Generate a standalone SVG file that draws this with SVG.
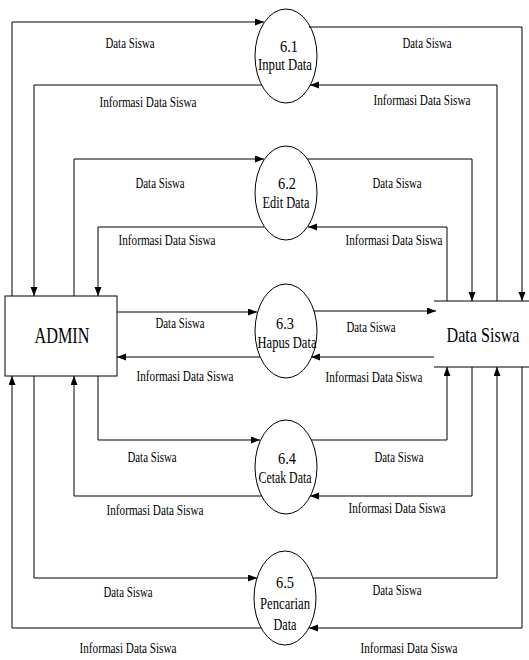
<svg xmlns="http://www.w3.org/2000/svg" width="529" height="660" viewBox="0 0 529 660">
  <style>
    .flow { fill: none; stroke: #000; stroke-width: 1; marker-end: url(#arrow); }
    .line { fill: none; stroke: #000; stroke-width: 1; }
    .proc { fill: #fff; stroke: #000; stroke-width: 1; }
    text { font-family: "Liberation Serif", "Times New Roman", serif; fill: #000; text-anchor: middle; }
    .lbl { font-size: 15px; }
    .pt { font-size: 17px; }
  </style>
  <defs>
    <marker id="arrow" markerUnits="userSpaceOnUse" markerWidth="10" markerHeight="8" refX="9" refY="3.5" orient="auto">
      <path d="M0,0 L9,3.5 L0,7 Z" fill="#000"/>
    </marker>
  </defs>

  <!-- external entity -->
  <g id="admin">
    <rect x="5" y="296" width="112" height="80" fill="#fff" stroke="#000" stroke-width="1"/>
    <text x="62" y="343" style="font-size:24px" textLength="55" lengthAdjust="spacingAndGlyphs">ADMIN</text>
  </g>

  <!-- data store -->
  <g id="store-data-siswa">
    <line class="line" x1="434" y1="301" x2="529" y2="301"/>
    <line class="line" x1="434" y1="367" x2="529" y2="367"/>
    <text x="483" y="342" style="font-size:21px" textLength="73" lengthAdjust="spacingAndGlyphs">Data Siswa</text>
  </g>

  <!-- processes -->
  <g id="p6-1">
    <ellipse class="proc" cx="286" cy="56" rx="31" ry="47"/>
    <text class="pt" x="289" y="52" textLength="18" lengthAdjust="spacingAndGlyphs">6.1</text>
    <text class="pt" x="285" y="70" textLength="54" lengthAdjust="spacingAndGlyphs">Input Data</text>
  </g>
  <g id="p6-2">
    <ellipse class="proc" cx="286" cy="193" rx="31" ry="47"/>
    <text class="pt" x="287" y="189" textLength="18" lengthAdjust="spacingAndGlyphs">6.2</text>
    <text class="pt" x="286" y="208" textLength="47" lengthAdjust="spacingAndGlyphs">Edit Data</text>
  </g>
  <g id="p6-3">
    <ellipse class="proc" cx="286" cy="331" rx="31" ry="47"/>
    <text class="pt" x="285" y="329" textLength="18" lengthAdjust="spacingAndGlyphs">6.3</text>
    <text class="pt" x="287" y="348" textLength="59" lengthAdjust="spacingAndGlyphs">Hapus Data</text>
  </g>
  <g id="p6-4">
    <ellipse class="proc" cx="286" cy="467" rx="31" ry="47"/>
    <text class="pt" x="287" y="464" textLength="18" lengthAdjust="spacingAndGlyphs">6.4</text>
    <text class="pt" x="285" y="483" textLength="53" lengthAdjust="spacingAndGlyphs">Cetak Data</text>
  </g>
  <g id="p6-5">
    <ellipse class="proc" cx="285" cy="598" rx="31" ry="47"/>
    <text class="pt" x="285" y="588" textLength="18" lengthAdjust="spacingAndGlyphs">6.5</text>
    <text class="pt" x="285" y="609" textLength="50" lengthAdjust="spacingAndGlyphs">Pencarian</text>
    <text class="pt" x="285" y="630" textLength="23" lengthAdjust="spacingAndGlyphs">Data</text>
  </g>

  <!-- data flows -->
  <g id="connectors">
    <!-- ADMIN side -->
    <polyline class="flow" points="12,296 12,22 264,22"/>
    <polyline class="flow" points="262,85 34,85 34,296"/>
    <polyline class="flow" points="74,296 74,159 264,159"/>
    <polyline class="flow" points="264,227 98,227 98,296"/>
    <polyline class="flow" points="117,312 257,312"/>
    <polyline class="flow" points="260,357 117,357"/>
    <polyline class="flow" points="98,376 98,440 260,440"/>
    <polyline class="flow" points="262,496 74,496 74,376"/>
    <polyline class="flow" points="34,376 34,578 257,578"/>
    <polyline class="flow" points="261,628 12,628 12,376"/>

    <!-- store side -->
    <polyline class="flow" points="309,27 522,27 522,301"/>
    <polyline class="flow" points="497,301 497,85 310,85"/>
    <polyline class="flow" points="307,159 472,159 472,301"/>
    <polyline class="flow" points="447,301 447,227 308,227"/>
    <polyline class="flow" points="314,311 436,311"/>
    <polyline class="flow" points="434,357 311,357"/>
    <polyline class="flow" points="311,440 447,440 447,367"/>
    <polyline class="flow" points="472,367 472,496 310,496"/>
    <polyline class="flow" points="313,578 497,578 497,367"/>
    <polyline class="flow" points="522,367 522,628 309,628"/>
  </g>

  <!-- flow labels -->
  <g id="labels" class="lbl">
    <text x="130" y="48" textLength="49" lengthAdjust="spacingAndGlyphs">Data Siswa</text>
    <text x="427" y="48" textLength="49" lengthAdjust="spacingAndGlyphs">Data Siswa</text>
    <text x="148" y="107" textLength="97" lengthAdjust="spacingAndGlyphs">Informasi Data Siswa</text>
    <text x="422" y="105" textLength="97" lengthAdjust="spacingAndGlyphs">Informasi Data Siswa</text>

    <text x="160" y="188" textLength="49" lengthAdjust="spacingAndGlyphs">Data Siswa</text>
    <text x="397" y="188" textLength="49" lengthAdjust="spacingAndGlyphs">Data Siswa</text>
    <text x="167" y="245" textLength="97" lengthAdjust="spacingAndGlyphs">Informasi Data Siswa</text>
    <text x="394" y="245" textLength="97" lengthAdjust="spacingAndGlyphs">Informasi Data Siswa</text>

    <text x="180" y="328" textLength="49" lengthAdjust="spacingAndGlyphs">Data Siswa</text>
    <text x="371" y="332" textLength="49" lengthAdjust="spacingAndGlyphs">Data Siswa</text>
    <text x="185" y="381" textLength="97" lengthAdjust="spacingAndGlyphs">Informasi Data Siswa</text>
    <text x="374" y="382" textLength="97" lengthAdjust="spacingAndGlyphs">Informasi Data Siswa</text>

    <text x="152" y="462" textLength="49" lengthAdjust="spacingAndGlyphs">Data Siswa</text>
    <text x="399" y="462" textLength="49" lengthAdjust="spacingAndGlyphs">Data Siswa</text>
    <text x="155" y="515" textLength="97" lengthAdjust="spacingAndGlyphs">Informasi Data Siswa</text>
    <text x="397" y="513" textLength="97" lengthAdjust="spacingAndGlyphs">Informasi Data Siswa</text>

    <text x="128" y="597" textLength="49" lengthAdjust="spacingAndGlyphs">Data Siswa</text>
    <text x="397" y="595" textLength="49" lengthAdjust="spacingAndGlyphs">Data Siswa</text>
    <text x="128" y="653" textLength="97" lengthAdjust="spacingAndGlyphs">Informasi Data Siswa</text>
    <text x="409" y="653" textLength="97" lengthAdjust="spacingAndGlyphs">Informasi Data Siswa</text>
  </g>
</svg>
